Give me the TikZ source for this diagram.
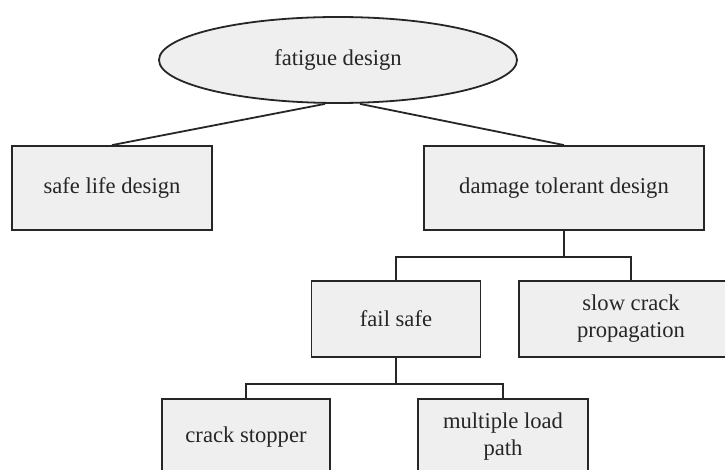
\documentclass[tikz,border=0pt]{standalone}
\usepackage{fontspec}
\setmainfont{Liberation Serif}
\usetikzlibrary{shapes.geometric,calc}
\definecolor{boxfill}{HTML}{EFEFEF}
\definecolor{ink}{HTML}{262626}
\begin{document}
\begin{tikzpicture}[x=1pt,y=-1pt,
  every node/.style={font=\fontsize{22.6}{27}\selectfont, text=ink, align=center, inner sep=0pt},
  boxnode/.style={draw=ink, line width=1.8pt, fill=boxfill, rectangle},
  ovalnode/.style={draw=ink, line width=1.8pt, fill=boxfill, ellipse},
  link/.style={draw=ink, line width=1.8pt}]
\useasboundingbox (0,0) rectangle (725,470);
\clip (0,0) rectangle (725,470);
\node[ovalnode, minimum width=358pt, minimum height=86pt] (fd) at (338,60) {\raisebox{-2pt}{fatigue design}};
\node[boxnode, minimum width=200pt, minimum height=84pt] (sl) at (112,188) {safe life design};
\node[boxnode, minimum width=280pt, minimum height=84pt] (dt) at (564,188) {damage tolerant design};
\node[boxnode, minimum width=169pt, minimum height=76pt] (fs) at (396,319) {fail safe};
\node[boxnode, minimum width=224pt, minimum height=76pt] (sc) at (631,319) {slow crack\\propagation};
\node[boxnode, minimum width=168pt, minimum height=76pt] (cs) at (246,437) {crack stopper};
\node[boxnode, minimum width=170pt, minimum height=76pt] (ml) at (503,437) {multiple load\\path};
\draw[link] ($(fd.south)+(-13,0)$) -- (sl.north);
\draw[link] ($(fd.south)+(22,0)$) -- (dt.north);
\draw[link] (dt.south) -- ++(0,26) -| (fs.north);
\draw[link] (dt.south) -- ++(0,26) -| (sc.north);
\draw[link] (fs.south) -- ++(0,26) -| (cs.north);
\draw[link] (fs.south) -- ++(0,26) -| (ml.north);
\end{tikzpicture}
\end{document}
